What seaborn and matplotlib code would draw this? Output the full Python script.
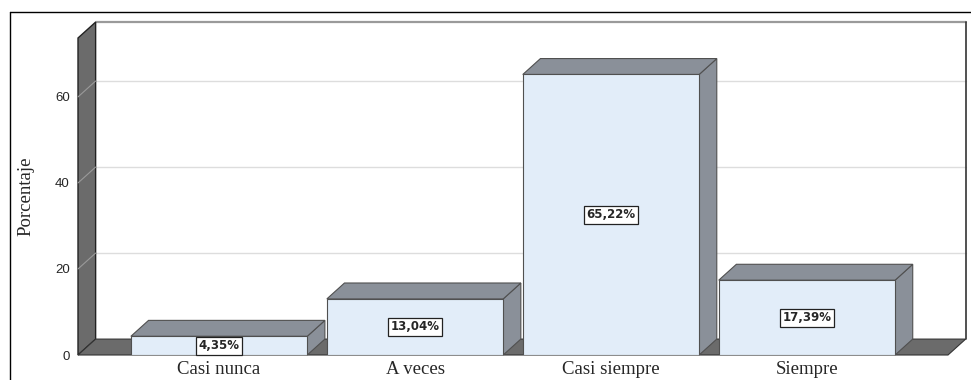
import pandas as pd
import matplotlib
matplotlib.use('Agg')
import matplotlib.pyplot as plt
import seaborn as sns
from matplotlib.patches import Polygon, Rectangle
from matplotlib.lines import Line2D

# datos
categorias = ["Casi nunca", "A veces", "Casi siempre", "Siempre"]
porcentajes = [4.35, 13.04, 65.22, 17.39]
yticks = [0, 20, 40, 60]

# estilo (pseudo 3D tipo SPSS)
FRONT = "#e2edf9"
SHADE = "#8a9099"
WALL = "#6b6b6b"
EDGE = "#505050"
DX, DY = 0.09, 3.7          # profundidad en unidades de datos
XLIM = (-0.72, 3.72)
YLIM = (0, 73.7)

sns.set_style("white")
plt.rcParams['font.family'] = ['Liberation Serif', 'DejaVu Serif']

df = pd.DataFrame({"Categoria": categorias, "Porcentaje": porcentajes})

fig = plt.figure(figsize=(9.71, 3.80), dpi=100)
ax = fig.add_axes([78 / 971, 25 / 380, 870 / 971, 317 / 380])
ax.patch.set_visible(False)

sns.barplot(data=df, x="Categoria", y="Porcentaje", color=FRONT, saturation=1,
            width=0.9, edgecolor=EDGE, linewidth=0.8, zorder=3, ax=ax)
bars = list(ax.patches)

x0, x1 = XLIM
y1 = YLIM[1]

# plano de fondo
ax.add_patch(Rectangle((x0 + DX, DY), x1 - x0, y1, facecolor='white',
                       edgecolor='none', zorder=0, clip_on=False))
ax.plot([x0 + DX, x1 + DX], [y1 + DY, y1 + DY], color='#9a9a9a', lw=1.6,
        clip_on=False, zorder=0.6)
ax.plot([x1 + DX, x1 + DX], [DY, y1 + DY], color='#333333', lw=1.2,
        clip_on=False, zorder=0.6)
for t in yticks[1:]:
    ax.plot([x0 + DX, x1 + DX], [t + DY, t + DY], color='#dddddd', lw=1,
            zorder=0.5, clip_on=False)

# pared izquierda y suelo
ax.add_patch(Polygon([(x0, 0), (x0 + DX, DY), (x0 + DX, y1 + DY), (x0, y1)],
                     closed=True, facecolor=WALL, edgecolor='#222222', lw=1,
                     zorder=1, clip_on=False))
ax.add_patch(Polygon([(x0, 0), (x1, 0), (x1 + DX, DY), (x0 + DX, DY)],
                     closed=True, facecolor=WALL, edgecolor='#333333', lw=0.8,
                     zorder=1, clip_on=False))
for t in yticks[1:]:
    ax.plot([x0, x0 + DX], [t, t + DY], color='#9a9a9a', lw=0.8,
            zorder=1.1, clip_on=False)

# caras laterales / superiores y etiquetas
for rect, v in zip(bars, porcentajes):
    xl = rect.get_x()
    xr = xl + rect.get_width()
    h = rect.get_height()
    side = [(xr, 0), (xr + DX, DY), (xr + DX, h + DY), (xr, h)]
    top = [(xl, h), (xr, h), (xr + DX, h + DY), (xl + DX, h + DY)]
    for poly in (side, top):
        ax.add_patch(Polygon(poly, closed=True, facecolor=SHADE, edgecolor=EDGE,
                             lw=0.8, zorder=2, clip_on=False))
    ax.text((xl + xr) / 2, h / 2, f"{v:.2f}%".replace('.', ','),
            ha='center', va='center', fontsize=8.5, fontweight='bold',
            family=['DejaVu Sans'], zorder=4,
            bbox=dict(boxstyle='square,pad=0.22', fc='white', ec='#222222', lw=0.9))

ax.set_xlim(*XLIM)
ax.set_ylim(*YLIM)
ax.set_yticks(yticks)
ax.set_yticklabels([str(t) for t in yticks], family=['Liberation Sans'], fontsize=9.5)
ax.tick_params(axis='y', length=0, pad=6)
ax.tick_params(axis='x', length=0, pad=4, labelsize=13.5)
for s in ax.spines.values():
    s.set_visible(False)
ax.set_xlabel("")
ax.set_ylabel("Porcentaje", fontsize=13.5)
ax.yaxis.set_label_coords(-0.05, 0.5)

# marco exterior
fig.add_artist(Line2D([10 / 971, 1], [1 - 12 / 380] * 2, color='black', lw=1,
                      transform=fig.transFigure))
fig.add_artist(Line2D([10 / 971, 10 / 971], [0, 1 - 12 / 380], color='black', lw=1,
                      transform=fig.transFigure))

fig.savefig("out.png", dpi=100)
